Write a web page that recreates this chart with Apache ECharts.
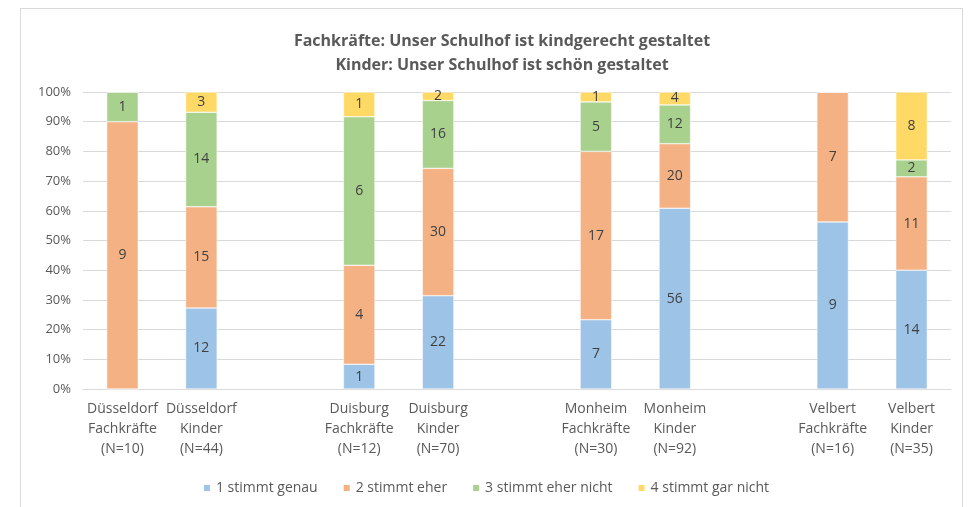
<!DOCTYPE html>
<html>
<head>
<meta charset="utf-8">
<script src="https://cdn.jsdelivr.net/npm/echarts@6/dist/echarts.min.js"></script>
<style>
  html, body { margin: 0; padding: 0; background: #fff; }
  #frame { position: absolute; left: 20px; top: 8px; width: 943px; height: 505px; border: 1px solid #d9d9d9; box-sizing: border-box; }
  #main { position: absolute; left: 0; top: 0; width: 971px; height: 507px; }
</style>
</head>
<body>
<div id="frame"></div>
<div id="main"></div>
<script>
// categories, '' = empty slot between the towns
const categories = [
  "Düsseldorf\nFachkräfte\n(N=10)", "Düsseldorf\nKinder\n(N=44)", "",
  "Duisburg\nFachkräfte\n(N=12)", "Duisburg\nKinder\n(N=70)", "",
  "Monheim\nFachkräfte\n(N=30)", "Monheim\nKinder\n(N=92)", "",
  "Velbert\nFachkräfte\n(N=16)", "Velbert\nKinder\n(N=35)"
];
const seriesNames = ["1 stimmt genau", "2 stimmt eher", "3 stimmt eher nicht", "4 stimmt gar nicht"];
const colors = ["#9dc3e6", "#f4b183", "#a9d18e", "#ffd966"];

// counts (labels) per answer
const stimmtGenau    = [0, 12, null, 1, 22, null, 7, 56, null, 9, 14];
const stimmtEher     = [9, 15, null, 4, 30, null, 17, 20, null, 7, 11];
const eherNicht      = [1, 14, null, 6, 16, null, 5, 12, null, 0, 2];
const garNicht       = [0, 3, null, 1, 2, null, 1, 4, null, 0, 8];
const counts = [stimmtGenau, stimmtEher, eherNicht, garNicht];

// total per column
const totals = categories.map((c, i) =>
  counts.reduce((s, arr) => s + (arr[i] || 0), 0));

const font = "'Open Sans', sans-serif";

const chart = echarts.init(document.getElementById("main"));
chart.setOption({
  animation: false,
  title: {
    text: "Fachkräfte: Unser Schulhof ist kindgerecht gestaltet\nKinder: Unser Schulhof ist schön gestaltet",
    left: 497, top: 24, textAlign: "center",
    textStyle: { fontFamily: font, fontSize: 16, fontWeight: "bold", color: "#595959", lineHeight: 24 }
  },
  legend: {
    bottom: 7, left: "center",
    itemWidth: 8, itemHeight: 8, itemGap: 24,
    icon: "rect",
    textStyle: { fontFamily: font, fontSize: 14, color: "#595959" },
    data: seriesNames
  },
  grid: { left: 83, right: 20, top: 92, bottom: 118 },
  xAxis: {
    type: "category",
    data: categories,
    axisTick: { show: false },
    axisLine: { lineStyle: { color: "#d9d9d9" } },
    axisLabel: { interval: 0, fontFamily: font, fontSize: 14, color: "#595959", lineHeight: 20, margin: 10 }
  },
  yAxis: {
    type: "value", min: 0, max: 100, interval: 10,
    axisLabel: { formatter: "{value}%", fontFamily: font, fontSize: 13, color: "#595959", margin: 12 },
    splitLine: { lineStyle: { color: "#d9d9d9" } }
  },
  series: counts.map((arr, k) => ({
    name: seriesNames[k],
    type: "bar",
    stack: "all",
    barWidth: "40%",
    itemStyle: { color: colors[k], borderColor: "#fff", borderWidth: 0.5 },
    data: arr.map((v, i) => v == null ? null : v / totals[i] * 100),
    label: {
      show: true,
      fontFamily: font, fontSize: 14, color: "#404040",
      formatter: p => (arr[p.dataIndex] ? String(arr[p.dataIndex]) : "")
    }
  }))
});
</script>
</body>
</html>
